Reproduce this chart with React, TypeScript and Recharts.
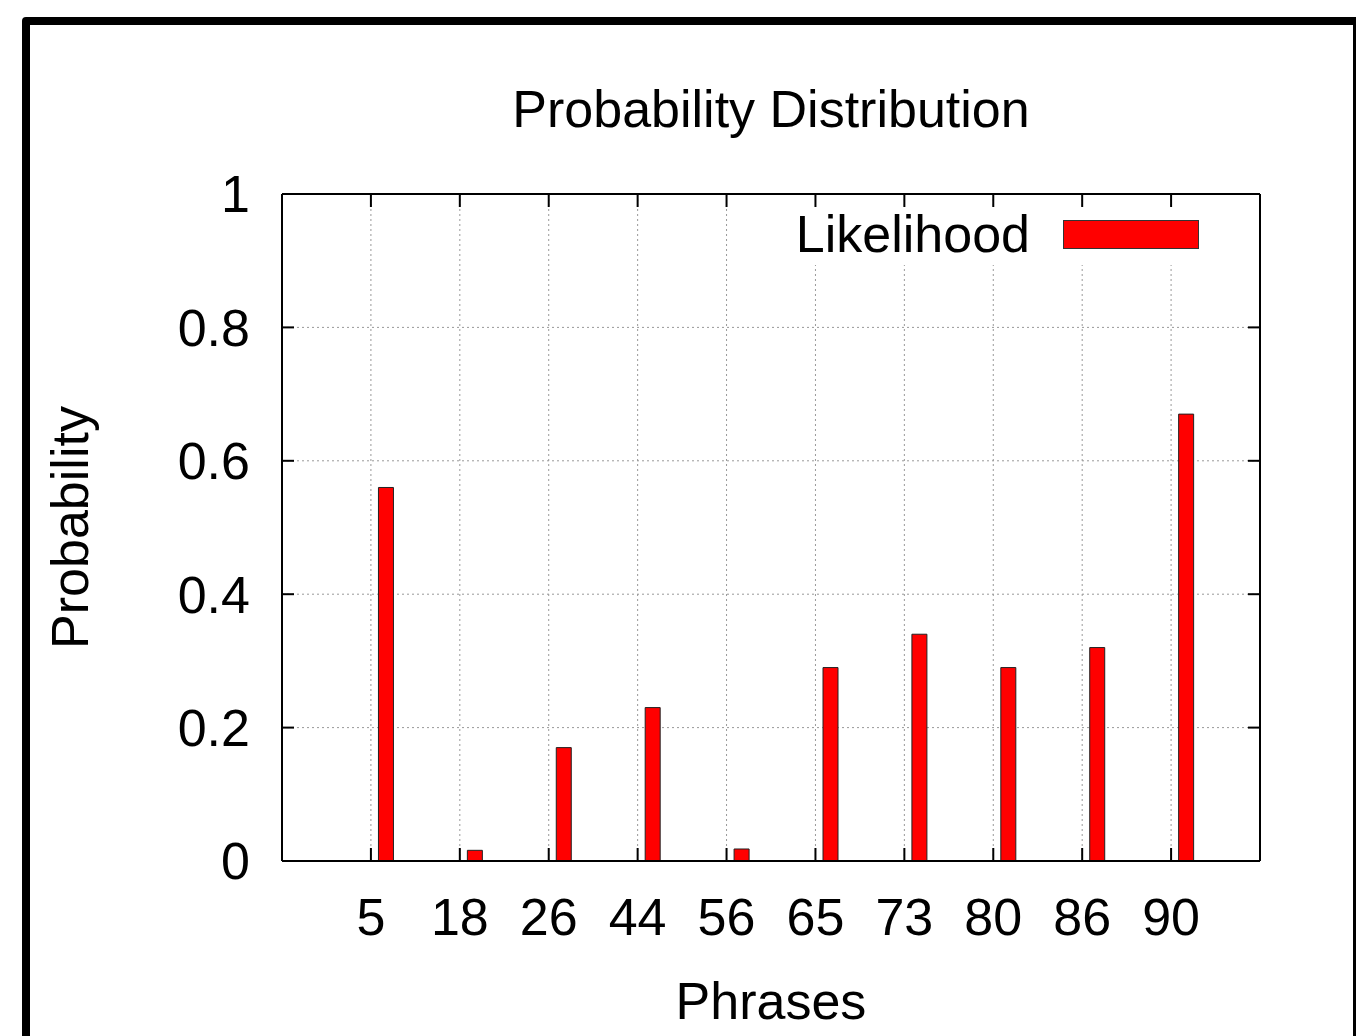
import React from "react";
import { Bar, BarChart, CartesianGrid, Legend, XAxis, YAxis } from "recharts";

const phrases = ["5", "18", "26", "44", "56", "65", "73", "80", "86", "90"];
const likelihood = [0.56, 0.016, 0.17, 0.23, 0.018, 0.29, 0.34, 0.29, 0.32, 0.67];
const yTicks = [0, 0.2, 0.4, 0.6, 0.8, 1];

// categories sit at 1..10 on a 0..11 axis, like the gnuplot original
const positions = phrases.map((_, i) => i + 1);
const data = phrases.map((p, i) => ({
  pos: positions[i],
  phrase: p,
  likelihood: likelihood[i],
}));

const FONT = '"Liberation Sans", Arial, Helvetica, sans-serif';
const TEXT = 52;
const AXIS = { stroke: "#000", strokeWidth: 2 };

function LegendBox(props: any) {
  const items = (props.payload || []).filter((p: any) => p.type !== "none");
  return (
    <div
      style={{
        display: "flex",
        alignItems: "center",
        justifyContent: "flex-end",
        height: 58,
        background: "#fff",
        paddingRight: 16,
        paddingBottom: 4,
        boxSizing: "border-box",
      }}
    >
      {items.map((it: any) => (
        <React.Fragment key={it.value}>
          <span style={{ fontSize: TEXT, lineHeight: 1, color: "#000" }}>
            {it.value}
          </span>
          <span
            style={{
              display: "inline-block",
              width: 136,
              height: 29,
              marginLeft: 33,
              background: "#ff0000",
              border: "1px solid #333",
              boxSizing: "border-box",
            }}
          />
        </React.Fragment>
      ))}
    </div>
  );
}

export default function App() {
  return (
    <div
      style={{
        position: "fixed",
        left: 0,
        top: 0,
        width: 1356,
        height: 1036,
        overflow: "hidden",
        background: "#fff",
        fontFamily: FONT,
      }}
    >
      <div
        style={{
          position: "absolute",
          left: 22,
          top: 17,
          width: 1339,
          height: 1200,
          border: "8px solid #000",
          borderRadius: 4,
          boxSizing: "border-box",
        }}
      />
      <div
        style={{
          position: "absolute",
          left: 282,
          width: 978,
          top: 83,
          textAlign: "center",
          fontSize: TEXT,
          lineHeight: "52px",
          color: "#000",
        }}
      >
        Probability Distribution
      </div>
      <div style={{ position: "absolute", left: 0, top: 0 }}>
        <BarChart
          width={1356}
          height={1036}
          data={data}
          margin={{ top: 0, right: 0, bottom: 75, left: 0 }}
          barGap={16}
        >
          <CartesianGrid stroke="#999" strokeDasharray="2 3" />
          <XAxis
            dataKey="pos"
            type="number"
            domain={[0, 11]}
            ticks={positions}
            interval={0}
            allowDataOverflow
            tickFormatter={(v: number) => phrases[v - 1] ?? ""}
            tick={{ fontSize: TEXT, fill: "#000" }}
            tickSize={-13}
            tickMargin={50}
            height={100}
            axisLine={AXIS}
            tickLine={AXIS}
            label={{
              value: "Phrases",
              position: "bottom",
              offset: 21,
              fontSize: TEXT,
              fill: "#000",
            }}
          />
          <XAxis
            xAxisId="top"
            orientation="top"
            dataKey="pos"
            type="number"
            domain={[0, 11]}
            ticks={positions}
            interval={0}
            allowDataOverflow
            tickFormatter={() => ""}
            tickSize={-13}
            height={194}
            axisLine={AXIS}
            tickLine={AXIS}
          />
          <YAxis
            width={282}
            domain={[0, 1]}
            ticks={yTicks}
            interval={0}
            allowDataOverflow
            tick={{ fontSize: TEXT, fill: "#000" }}
            tickSize={-12}
            tickMargin={44}
            axisLine={AXIS}
            tickLine={AXIS}
            label={{
              value: "Probability",
              angle: -90,
              position: "center",
              dx: -71,
              fontSize: TEXT,
              fill: "#000",
            }}
          />
          <YAxis
            yAxisId="right"
            orientation="right"
            width={96}
            domain={[0, 1]}
            ticks={yTicks}
            interval={0}
            allowDataOverflow
            tickFormatter={() => ""}
            tickSize={-12}
            axisLine={AXIS}
            tickLine={AXIS}
          />
          <Legend
            layout="vertical"
            align="center"
            verticalAlign="middle"
            wrapperStyle={{ left: 790, top: 207, width: 425, height: 58 }}
            content={<LegendBox />}
          />
          {/* empty spacer keeps the red bar just right of its tick */}
          <Bar
            dataKey={() => 0}
            fill="transparent"
            barSize={15}
            legendType="none"
            isAnimationActive={false}
          />
          <Bar
            dataKey="likelihood"
            name="Likelihood"
            fill="#ff0000"
            stroke="#222"
            strokeWidth={1}
            barSize={15}
            isAnimationActive={false}
          />
        </BarChart>
      </div>
    </div>
  );
}
